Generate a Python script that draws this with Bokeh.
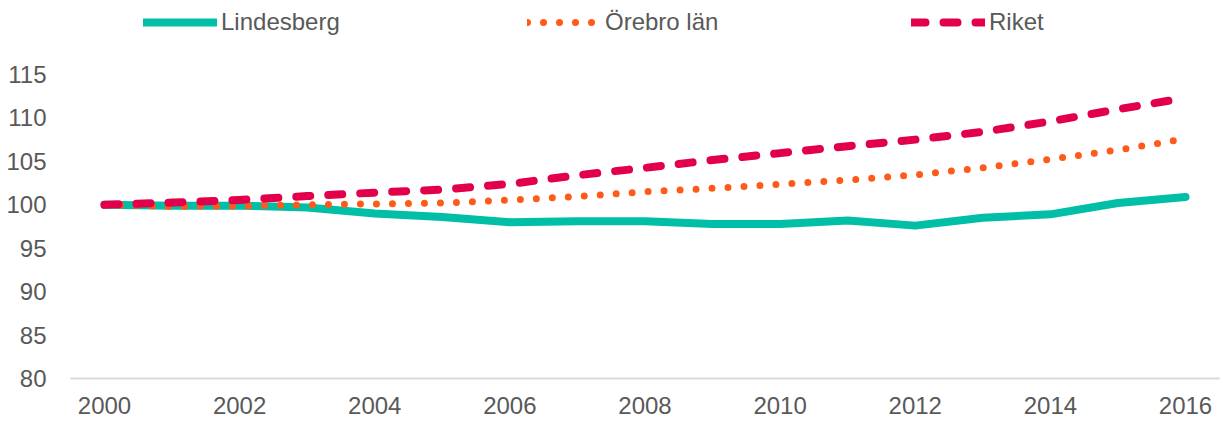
from bokeh.plotting import figure
from bokeh.models import Range1d, FixedTicker, Legend, LegendItem
from bokeh.embed import file_html
from bokeh.resources import INLINE

years = list(range(2000, 2017))
lindesberg = [100.0, 99.9, 99.9, 99.7, 99.0, 98.6, 98.0, 98.1, 98.1, 97.8, 97.8, 98.2, 97.6, 98.5, 98.9, 100.2, 100.9]
orebro_lan = [100.0, 99.8, 99.85, 100.0, 100.1, 100.2, 100.55, 100.95, 101.5, 101.9, 102.35, 102.85, 103.45, 104.25, 105.25, 106.3, 107.6]
riket = [100.0, 100.25, 100.55, 101.0, 101.4, 101.75, 102.4, 103.4, 104.25, 105.15, 105.95, 106.75, 107.5, 108.4, 109.6, 111.0, 112.3]
x_ticks = [2000, 2002, 2004, 2006, 2008, 2010, 2012, 2014, 2016]
y_ticks = [80, 85, 90, 95, 100, 105, 110, 115]
series_names = ["Lindesberg", "Örebro län", "Riket"]

FONT = "Liberation Sans"
TXT = "#595959"

# plot area spans 80..115 over 304 px; frame is extended upward to host the legend
px_per_unit = 304 / 35
y_top = 80 + 378 / px_per_unit

p = figure(frame_width=1149, frame_height=378, output_backend="svg", toolbar_location=None,
           x_range=Range1d(1999.497, 2016.503), y_range=Range1d(80, y_top),
           min_border_left=70, min_border_right=4, min_border_top=0, min_border_bottom=43)
p.outline_line_color = None
p.xgrid.grid_line_color = None
p.ygrid.grid_line_color = None

r1 = p.line(years, lindesberg, line_color="#00BFA6", line_width=8, line_cap="round", line_join="round")
r2 = p.line(years, orebro_lan, line_color="#FF5A1A", line_width=7, line_cap="round", line_join="round",
            line_dash="0 16")
r3 = p.line(years, riket, line_color="#E3004A", line_width=8, line_cap="round", line_join="round",
            line_dash="14 18")

p.xaxis.ticker = FixedTicker(ticks=x_ticks)
p.yaxis.ticker = FixedTicker(ticks=y_ticks)
for ax in (p.xaxis, p.yaxis):
    ax.major_tick_line_color = None
    ax.minor_tick_line_color = None
    ax.major_label_text_font = FONT
    ax.major_label_text_font_size = "24px"
    ax.major_label_text_color = TXT
p.xaxis.axis_line_color = "#D9D9D9"
p.xaxis.axis_line_width = 2
p.xaxis.major_label_standoff = 12
p.yaxis.axis_line_color = None
p.yaxis.major_label_standoff = 18

legend = Legend(items=[LegendItem(label=series_names[0], renderers=[r1]),
                       LegendItem(label=series_names[1], renderers=[r2]),
                       LegendItem(label=series_names[2], renderers=[r3])],
                orientation="horizontal", location=(73, 342),
                glyph_width=74, glyph_height=20, label_standoff=4, label_width=306,
                spacing=0, padding=0, margin=0,
                label_text_font=FONT, label_text_font_size="24px", label_text_color=TXT,
                border_line_alpha=0, background_fill_alpha=0)
p.add_layout(legend, "center")

open("out.html", "w").write(file_html(p, INLINE))
